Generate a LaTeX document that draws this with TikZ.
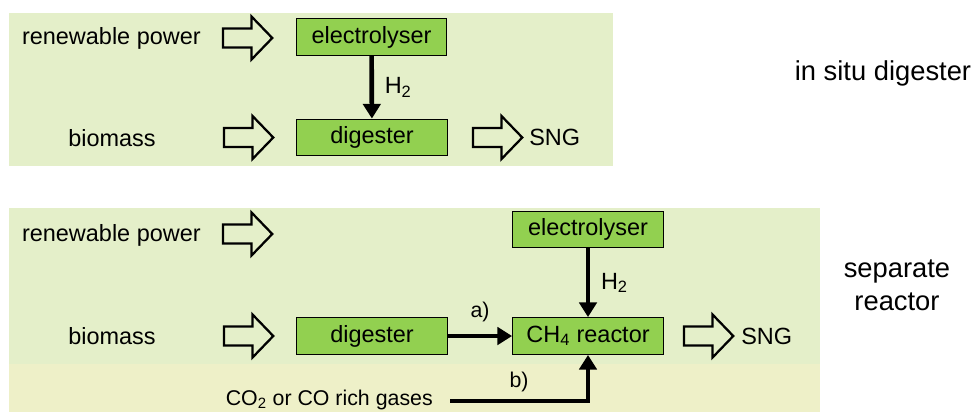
\documentclass[tikz,border=0pt]{standalone}
\usepackage{fontspec}
\setmainfont{Liberation Sans}
\usepackage{tikz}
\usetikzlibrary{shapes.arrows, arrows.meta, positioning, calc}
\definecolor{panelGreen}{RGB}{228, 239, 201}
\definecolor{bandYellow}{RGB}{238, 240, 200}
\definecolor{unitGreen}{RGB}{146, 208, 80}

\begin{document}
\begin{tikzpicture}[x=0.75pt, y=-0.75pt,
    unit/.style={draw=black, line width=0.9pt, fill=unitGreen, minimum width=113pt, minimum height=27.5pt, inner sep=0pt, font=\fontsize{17.6}{20}\selectfont},
    lbl/.style={inner sep=0pt, font=\fontsize{17.6}{20}\selectfont},
    tag/.style={inner sep=0pt, font=\fontsize{16}{19}\selectfont},
    side/.style={inner sep=0pt, align=center, font=\fontsize{20.5}{25}\selectfont},
    hollow/.style={single arrow, draw=black, line width=1.7pt, inner sep=0pt, inner ysep=6.3pt, minimum height=37pt, single arrow head extend=9pt, single arrow tip angle=92},
    flow/.style={line width=3.5pt, -{Triangle[width=13pt,length=11pt]}}]

    % Frame
    \useasboundingbox (0,0) rectangle (974,412);

    % Panels
    \fill[panelGreen] (9,13) rectangle (613,166);
    \fill[panelGreen] (9,208) rectangle (820,412);
    \fill[bandYellow] (9,364) rectangle (820,412);

    % In situ digester
    \node[lbl, anchor=east] (powerA) at (201,38) {renewable power};
    \node[hollow] (powerArrA) at (243,38) {};
    \node[unit] (elecA) at (371.5,37) {electrolyser};
    \node[lbl] (bioA) at (112,138) {biomass};
    \node[hollow] (bioArrA) at (244,137.5) {};
    \node[unit] (digA) at (372,137.5) {digester};
    \node[hollow] (sngArrA) at (493,137.5) {};
    \node[lbl, anchor=west] (sngA) at (529,137.5) {SNG};
    \draw[flow] (elecA) -- node[lbl, right=8pt] {H\textsubscript{2}} (digA);
    \node[side] (situ) at (883,73) {in situ digester};

    % Separate reactor
    \node[lbl, anchor=east] (powerB) at (201,235) {renewable power};
    \node[hollow] (powerArrB) at (243,234) {};
    \node[unit] (elecB) at (588,229.5) {electrolyser};
    \node[unit] (react) at (588,336) {CH\textsubscript{4} reactor};
    \node[lbl] (bioB) at (112,336) {biomass};
    \node[hollow] (bioArrB) at (244,336) {};
    \node[unit] (digB) at (372,336) {digester};
    \node[hollow] (sngArrB) at (704,336) {};
    \node[lbl, anchor=west] (sngB) at (741,336) {SNG};
    \node[tag, anchor=east] (gas) at (433,400) {CO\textsubscript{2} or CO rich gases};
    \coordinate (gasEnd) at (450,401);
    \draw[flow] (elecB) -- node[lbl, right=8pt] {H\textsubscript{2}} (react);
    \draw[flow] (digB) -- node[tag, above=9pt] {a)} (react);
    \draw[flow] (gasEnd) -- node[tag, above=5pt] {b)} ($(gasEnd)!(react.south)!(gasEnd-|react.south)$) -- (react.south);
    \node[side] (sepr) at (897,285) {separate\\reactor};
\end{tikzpicture}
\end{document}
